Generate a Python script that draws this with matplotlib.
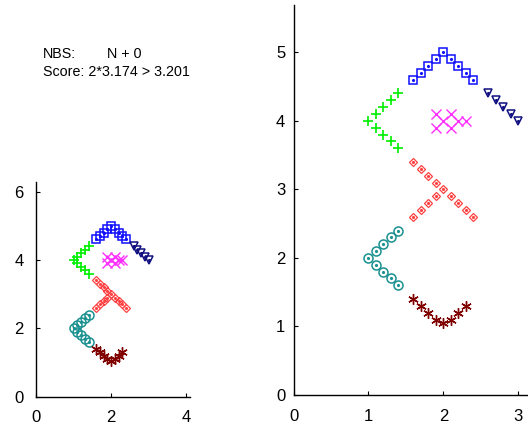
import matplotlib
matplotlib.use("Agg")
import matplotlib.pyplot as plt

plt.rcParams['font.family'] = ['Liberation Sans', 'DejaVu Sans']

# ---- data ----
sq_x = [1.6, 1.7, 1.8, 1.9, 2.0, 2.1, 2.2, 2.3, 2.4]
sq_y = [4.6, 4.7, 4.8, 4.9, 5.0, 4.9, 4.8, 4.7, 4.6]

tri_x = [2.6, 2.7, 2.8, 2.9, 3.0]
tri_y = [4.4, 4.3, 4.2, 4.1, 4.0]

plus_x = [1.0, 1.1, 1.2, 1.3, 1.4, 1.1, 1.2, 1.3, 1.4]
plus_y = [4.0, 4.1, 4.2, 4.3, 4.4, 3.9, 3.8, 3.7, 3.6]

cross_x = [1.9, 2.1, 2.0, 1.9, 2.1, 2.2, 2.3]
cross_y = [4.1, 4.1, 4.0, 3.9, 3.9, 4.0, 4.0]

dia_x = [1.6, 1.7, 1.8, 1.9, 2.0, 2.1, 2.2, 2.3, 2.4, 1.6, 1.7, 1.8, 1.9]
dia_y = [3.4, 3.3, 3.2, 3.1, 3.0, 2.9, 2.8, 2.7, 2.6, 2.6, 2.7, 2.8, 2.9]

circ_x = [1.0, 1.1, 1.2, 1.3, 1.4, 1.1, 1.2, 1.3, 1.4]
circ_y = [2.0, 2.1, 2.2, 2.3, 2.4, 1.9, 1.8, 1.7, 1.6]

star_x = [1.6, 1.7, 1.8, 1.9, 2.0, 2.1, 2.2, 2.3]
star_y = [1.4, 1.3, 1.2, 1.1, 1.05, 1.1, 1.2, 1.3]

left_xticks = [0, 2, 4]
left_yticks = [0, 2, 4, 6]
right_xticks = [0, 1, 2, 3]
right_yticks = [0, 1, 2, 3, 4, 5]

text_line1a = "NBS:"
text_line1b = "N + 0"
text_line2 = "Score: 2*3.174 > 3.201"

# ---- styles ----
series = [
    (sq_x, sq_y, dict(marker='s', ms=6.0, mfc='none', mec='#1010ff', mew=1.1), True),
    (tri_x, tri_y, dict(marker='v', ms=6.0, mfc='none', mec='#101080', mew=1.1), True),
    (plus_x, plus_y, dict(marker='+', ms=7.5, mec='#00ee00', mew=1.2), False),
    (cross_x, cross_y, dict(marker='x', ms=7.0, mec='#ff30ff', mew=1.0), False),
    (dia_x, dia_y, dict(marker='D', ms=3.8, mfc='none', mec='#ff4040', mew=0.9), True),
    (circ_x, circ_y, dict(marker='o', ms=6.5, mfc='none', mec='#1a9090', mew=1.1), True),
    (star_x, star_y, dict(marker=(6, 2, 0), ms=7.5, mec='#800000', mew=1.0), True),
]

W, H = 528, 428
fig = plt.figure(figsize=(W / 100, H / 100), dpi=100)


def px_axes(left, right, bottom, top):
    return fig.add_axes([left / W, (H - bottom) / H, (right - left) / W, (bottom - top) / H])


def draw(ax, xlim, ylim, xt, yt, xpad, ypad):
    for x, y, st, dot in series:
        c = st['mec']
        ax.plot(x, y, linestyle='none', clip_on=False, **st)
        if dot:
            ax.plot(x, y, linestyle='none', marker='.', ms=2.5, color=c, clip_on=False)
    ax.set_xlim(*xlim)
    ax.set_ylim(*ylim)
    ax.set_xticks(xt)
    ax.set_yticks(yt)
    for s in ('top', 'right'):
        ax.spines[s].set_visible(False)
    for s in ('left', 'bottom'):
        ax.spines[s].set_linewidth(1.0)
        ax.spines[s].set_color('black')
    ax.tick_params(axis='x', direction='in', length=3, width=0.8, labelsize=12, pad=xpad)
    ax.tick_params(axis='y', direction='in', length=3, width=0.8, labelsize=12, pad=ypad)
    ax.patch.set_alpha(0)


ax1 = px_axes(36, 190, 396.7, 181.7)
draw(ax1, (0, 4.1), (0, 6.29), left_xticks, left_yticks, 9.5, 9)

ax2 = px_axes(293.5, 528, 395, 5)
draw(ax2, (0, 3.13), (0, 5.69), right_xticks, right_yticks, 10, 6)

fig.text(43 / W, 1 - 58 / H, text_line1a, fontsize=10.3, ha='left', va='baseline')
fig.text(107 / W, 1 - 58 / H, text_line1b, fontsize=10.3, ha='left', va='baseline')
fig.text(43 / W, 1 - 75.5 / H, text_line2, fontsize=10.3, ha='left', va='baseline')

fig.savefig('out.png', dpi=100)
